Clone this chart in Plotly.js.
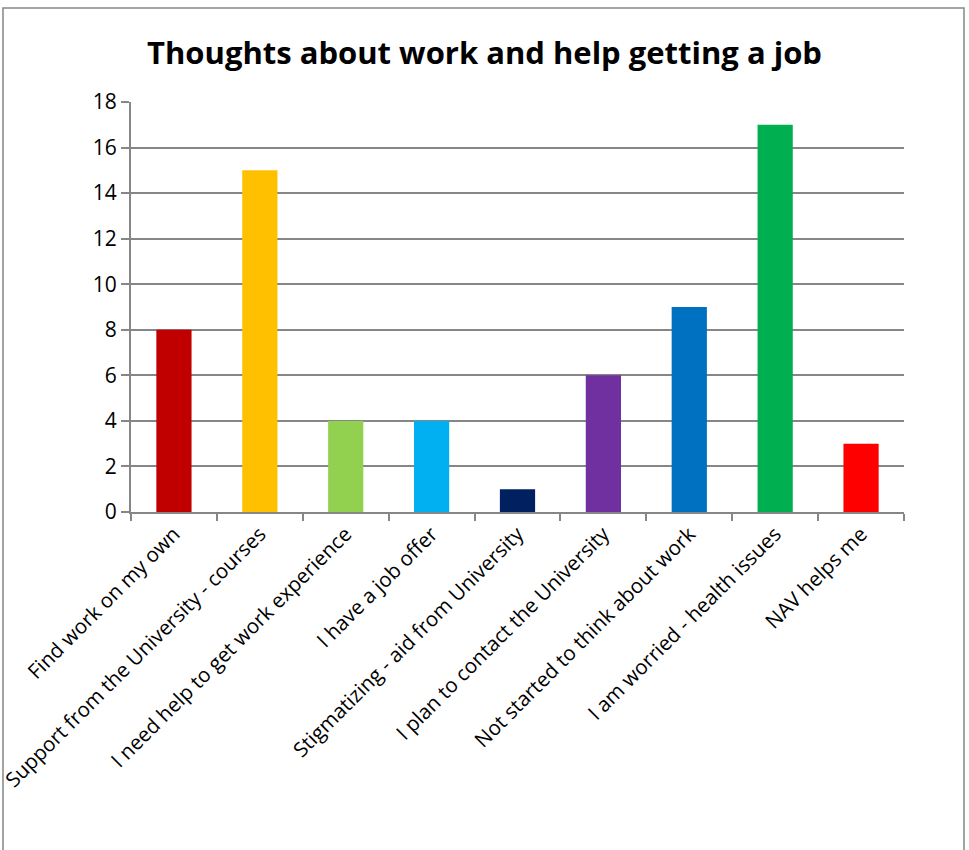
<!DOCTYPE html>
<html><head><meta charset="utf-8">
<script src="https://cdn.plot.ly/plotly-3.0.1.min.js"></script>
<style>html,body{margin:0;padding:0;background:#fff;}</style>
</head><body>
<div id="chart" style="width:969px;height:850px;"></div>
<script>
const categories = ["Find work on my own","Support from the University - courses","I need help to get work experience","I have a job offer","Stigmatizing - aid from University","I plan to contact the University","Not started to think about work","I am worried - health issues","NAV helps me"];
const values = [8, 15, 4, 4, 1, 6, 9, 17, 3];
const barColors = ["#C00000","#FFC000","#92D050","#00B0F0","#002060","#7030A0","#0070C0","#00B050","#FF0000"];
const yTicks = [0,2,4,6,8,10,12,14,16,18];
const chartTitle = "Thoughts about work and help getting a job";

const font = "'Open Sans', 'Noto Sans', sans-serif";
const data = [{
  type: "bar", x: categories, y: values,
  marker: {color: barColors, line: {width: 0}},
  hoverinfo: "x+y"
}];
const layout = {
  width: 969, height: 850,
  margin: {l: 131, r: 65, t: 102, b: 338},
  paper_bgcolor: "#fff", plot_bgcolor: "#fff",
  bargap: 0.59,
  showlegend: false,
  title: {text: "<b>" + chartTitle + "</b>", x: 0.5, xanchor: "center", y: 0.938, yanchor: "middle",
          font: {family: font, size: 31, color: "#000"}},
  xaxis: {
    type: "category", tickangle: -45, ticks: "outside", tickson: "boundaries",
    ticklen: 7, tickcolor: "#868686", tickwidth: 2,
    showline: true, linecolor: "#868686", linewidth: 2,
    showgrid: false, tickfont: {family: font, size: 20.5, color: "#000"}
  },
  yaxis: {
    range: [0, 18], tickvals: yTicks, ticktext: yTicks.map(String),
    ticks: "outside", ticklen: 8, tickcolor: "#868686", tickwidth: 2,
    showline: true, linecolor: "#868686", linewidth: 2,
    showgrid: true, gridcolor: "#868686", gridwidth: 2,
    zeroline: false, tickfont: {family: font, size: 21, color: "#000"}
  },
  shapes: [{type: "rect", xref: "paper", yref: "paper", x0: -0.1656, x1: 1.0776, y0: -0.84, y1: 1.229,
            line: {color: "#868686", width: 1.5}, fillcolor: "rgba(0,0,0,0)", layer: "below"}]
};
Plotly.newPlot("chart", data, layout, {displayModeBar: false, staticPlot: true});
</script>
</body></html>
